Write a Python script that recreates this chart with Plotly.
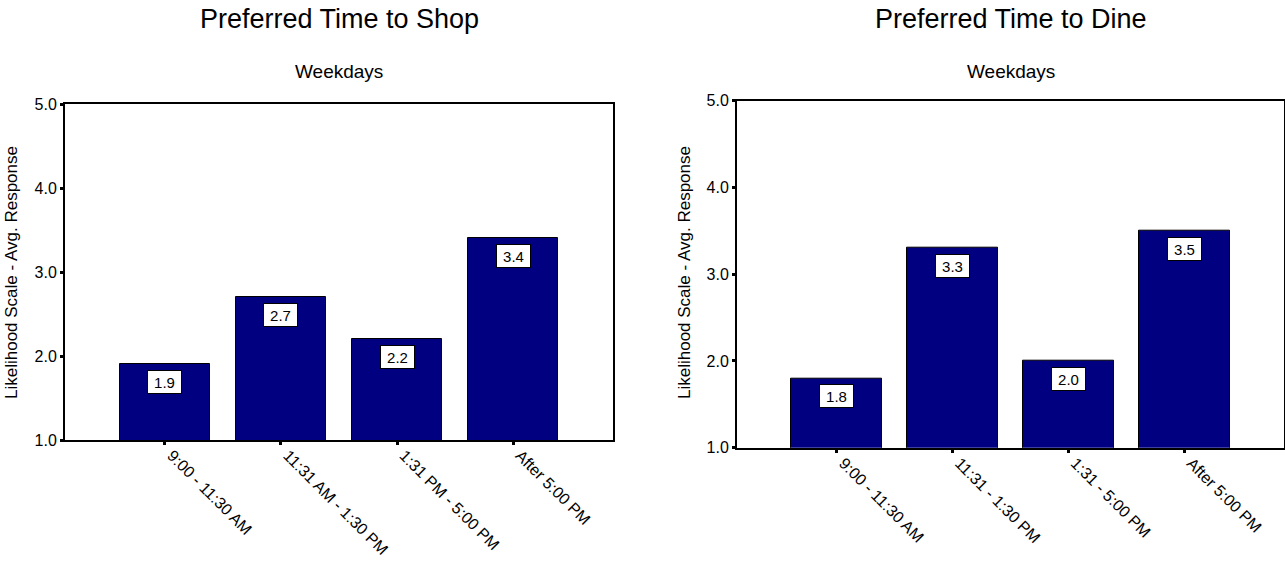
import plotly.graph_objects as go

# Survey results: average likelihood response by weekday time slot
shop_slots = ["9:00 - 11:30 AM", "11:31 AM - 1:30 PM", "1:31 PM - 5:00 PM", "After 5:00 PM"]
shop_values = [1.9, 2.7, 2.2, 3.4]

dine_slots = ["9:00 - 11:30 AM", "11:31 - 1:30 PM", "1:31 - 5:00 PM", "After 5:00 PM"]
dine_values = [1.8, 3.3, 2.0, 3.5]

y_ticks = [1.0, 2.0, 3.0, 4.0, 5.0]

W, H = 1285, 561
FONT = "Liberation Sans, Arial, sans-serif"
BAR_FILL = "#000080"

fig = go.Figure()


def px_x(v):
    return v / W


def px_y(v):
    return 1 - v / H


panels = [
    dict(slots=shop_slots, values=shop_values, xa="x", ya="y",
         xdom=[px_x(65), px_x(613)], ydom=[px_y(440), px_y(104)],
         title="Preferred Time to Shop", cx=339, ytitle_x=12),
    dict(slots=dine_slots, values=dine_values, xa="x2", ya="y2",
         xdom=[px_x(737), px_x(1284)], ydom=[px_y(447.7), px_y(100.7)],
         title="Preferred Time to Dine", cx=1010.5, ytitle_x=685),
]

annotations = []
for i, p in enumerate(panels):
    fig.add_trace(go.Bar(
        x=list(range(len(p["slots"]))),
        y=p["values"],
        width=0.78,
        marker=dict(color=BAR_FILL, line=dict(color="black", width=1)),
        xaxis=p["xa"], yaxis=p["ya"],
        showlegend=False, hoverinfo="skip",
    ))
    # value labels in white boxes just under each bar top
    for k, v in enumerate(p["values"]):
        annotations.append(dict(
            x=k, y=v, xref=p["xa"], yref=p["ya"],
            text=f"{v:.1f}", showarrow=False,
            yanchor="top", yshift=-6,
            font=dict(family=FONT, size=15, color="black"),
            bgcolor="white", bordercolor="black", borderwidth=1,
            borderpad=2, width=29, height=18,
        ))
    annotations.append(dict(
        x=px_x(p["cx"]), y=px_y(19), xref="paper", yref="paper",
        text=p["title"], showarrow=False, xanchor="center", yanchor="middle",
        font=dict(family=FONT, size=27, color="black"),
    ))
    annotations.append(dict(
        x=px_x(p["cx"]), y=px_y(71), xref="paper", yref="paper",
        text="Weekdays", showarrow=False, xanchor="center", yanchor="middle",
        font=dict(family=FONT, size=19, color="black"),
    ))
    annotations.append(dict(
        x=px_x(p["ytitle_x"]), y=px_y(273), xref="paper", yref="paper",
        text="Likelihood Scale - Avg. Response", showarrow=False,
        textangle=-90, xanchor="center", yanchor="middle",
        font=dict(family=FONT, size=17, color="black"),
    ))

    suffix = "" if i == 0 else "2"
    fig.update_layout(**{
        "xaxis" + suffix: dict(
            domain=p["xdom"], anchor="y" + suffix, automargin=False,
            range=[-0.86, 3.86],
            tickmode="array", tickvals=list(range(len(p["slots"]))),
            ticktext=p["slots"], tickangle=45,
            ticklabelshift=7, ticklabelstandoff=-5,
            ticks="outside", ticklen=3, tickwidth=3, tickcolor="black",
            showline=True, linecolor="black", linewidth=2, mirror=True,
            showgrid=False, zeroline=False, fixedrange=True,
            tickfont=dict(family=FONT, size=16, color="black"),
        ),
        "yaxis" + suffix: dict(
            domain=p["ydom"], anchor="x" + suffix, automargin=False,
            range=[1, 5], tickmode="array", tickvals=y_ticks,
            tickformat=".1f",
            ticks="outside", ticklen=3, tickwidth=3, tickcolor="black",
            showline=True, linecolor="black", linewidth=2, mirror=True,
            showgrid=False, zeroline=False, fixedrange=True,
            tickfont=dict(family=FONT, size=16, color="black"),
        ),
    })

fig.update_layout(
    width=W, height=H,
    margin=dict(l=0, r=0, t=0, b=0, autoexpand=False),
    paper_bgcolor="white", plot_bgcolor="white",
    bargap=0, annotations=annotations,
    font=dict(family=FONT, color="black"),
)

fig.write_html("out.html", config={"displayModeBar": False})
